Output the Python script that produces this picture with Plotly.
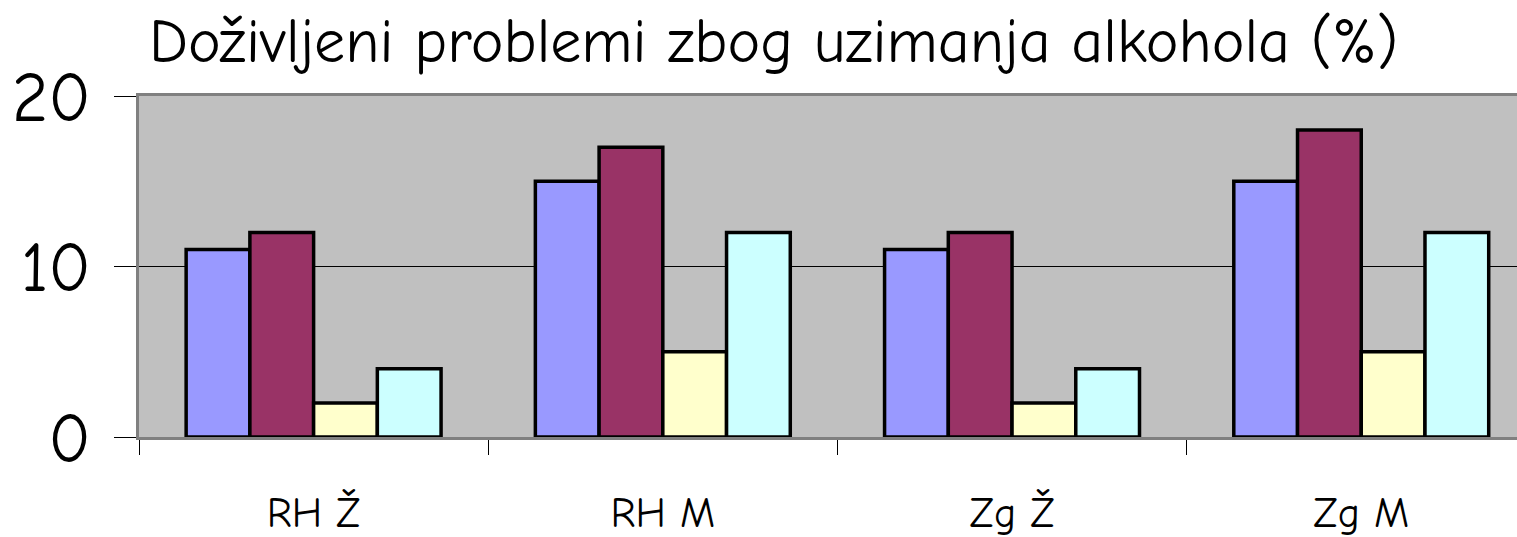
import plotly.graph_objects as go

categories = ["RH Ž", "RH M", "Zg Ž", "Zg M"]
series1 = [11, 15, 11, 15]
series2 = [12, 17, 12, 18]
series3 = [2, 5, 2, 5]
series4 = [4, 12, 4, 12]
y_ticks = [0, 10, 20]
title_text = "Doživljeni problemi zbog uzimanja alkohola (%)"

colors = ["#9999FF", "#993366", "#FFFFCC", "#CCFFFF"]
font_family = "Comic Sans MS, Comic Neue, DejaVu Sans, sans-serif"

fig = go.Figure()
for i, vals in enumerate([series1, series2, series3, series4]):
    fig.add_trace(go.Bar(
        x=categories, y=vals, name=f"S{i+1}",
        marker=dict(color=colors[i], line=dict(color="black", width=3.5)),
    ))

fig.update_layout(
    width=1517, height=537,
    margin=dict(l=139, r=0, t=96, b=100, autoexpand=False),
    paper_bgcolor="white",
    plot_bgcolor="#C0C0C0",
    barmode="group",
    bargap=0.27,
    bargroupgap=0,
    showlegend=False,
    title=dict(text=title_text, x=0.51, xanchor="center", xref="container",
               y=0.925, yref="container", yanchor="middle",
               font=dict(family=font_family, size=62, color="black")),
    font=dict(family=font_family, color="black"),
)

fig.update_xaxes(
    type="category",
    range=[-0.5, 3.446],
    automargin=False,
    showline=True, linecolor="#808080", linewidth=3, mirror=True,
    ticks="outside", tickson="boundaries", ticklen=15, tickcolor="black", tickwidth=1,
    tickfont=dict(family=font_family, size=42, color="black"),
    ticklabelstandoff=37,
    showgrid=False,
)
fig.update_yaxes(
    range=[0, 20],
    tickvals=y_ticks,
    automargin=False,
    showline=True, linecolor="#808080", linewidth=3, mirror=False,
    ticks="outside", ticklen=22, tickcolor="black", tickwidth=1,
    tickfont=dict(family=font_family, size=70, color="black"),
    ticklabelstandoff=9,
    showgrid=True, gridcolor="black", gridwidth=1,
    zeroline=False,
)

fig.write_html("out.html", config={"displayModeBar": False},
               post_script="document.body.style.margin='0';document.body.style.overflow='hidden';")
